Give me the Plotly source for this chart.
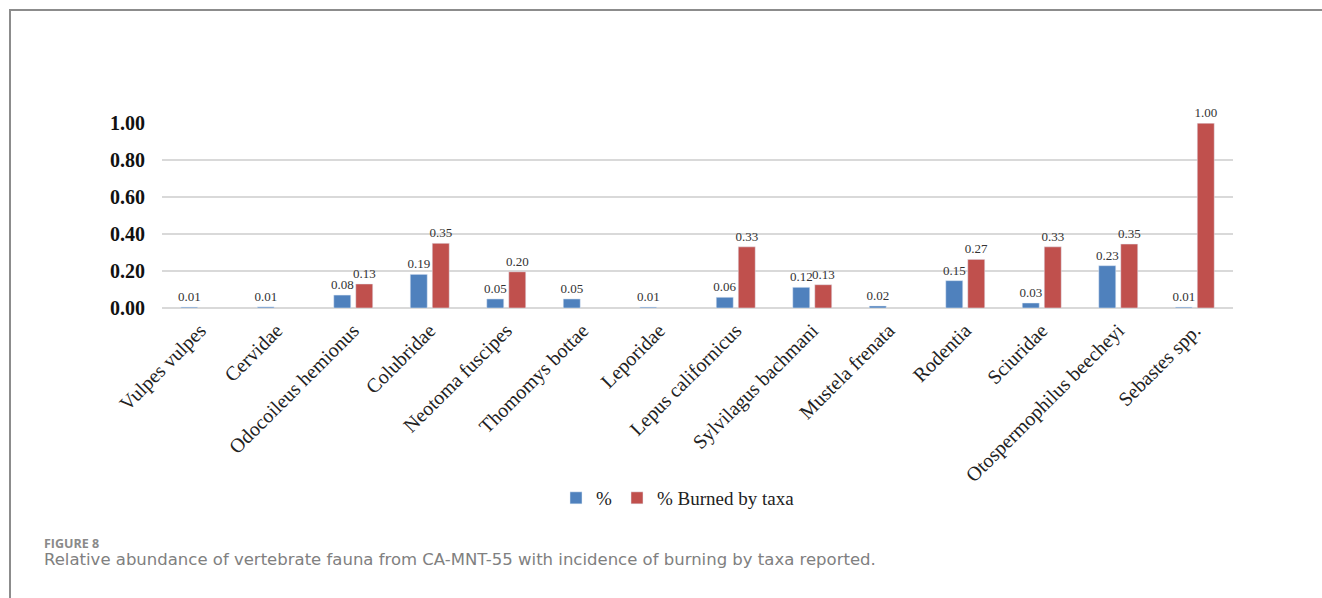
import plotly.graph_objects as go

categories = ["Vulpes vulpes", "Cervidae", "Odocoileus hemionus", "Colubridae",
              "Neotoma fuscipes", "Thomomys bottae", "Leporidae", "Lepus californicus",
              "Sylvilagus bachmani", "Mustela frenata", "Rodentia", "Sciuridae",
              "Otospermophilus beecheyi", "Sebastes spp."]
pct = [0.005, 0.006, 0.07, 0.182, 0.049, 0.049, 0.005, 0.058, 0.112, 0.011,
       0.148, 0.027, 0.229, 0.005]
pct_labels = ["0.01", "0.01", "0.08", "0.19", "0.05", "0.05", "0.01", "0.06",
              "0.12", "0.02", "0.15", "0.03", "0.23", "0.01"]
burned = [None, None, 0.13, 0.35, 0.196, None, None, 0.331, 0.126, None,
          0.263, 0.331, 0.346, 1.0]
burned_labels = ["", "", "0.13", "0.35", "0.20", "", "", "0.33", "0.13", "",
                 "0.27", "0.33", "0.35", "1.00"]
y_ticks = [0, 0.2, 0.4, 0.6, 0.8, 1.0]

W, H = 1322, 598
L, R, T, B = 162, 1233, 123, 308  # plot area in pixels


def px_x(x):
    return (x - L) / (R - L)


def px_y(y):
    return (B - y) / (B - T)


serif = "Liberation Serif, Times New Roman, serif"

fig = go.Figure()
fig.add_trace(go.Bar(
    x=categories, y=pct, name="%", marker_color="#4F81BD",
    text=pct_labels, textposition="outside", cliponaxis=False, constraintext="none",
    textfont=dict(family=serif, size=13, color="#333333"),
))
fig.add_trace(go.Bar(
    x=categories, y=burned, name="% Burned by taxa", marker_color="#C0504D",
    text=burned_labels, textposition="outside", cliponaxis=False, constraintext="none",
    textfont=dict(family=serif, size=13, color="#333333"),
))

fig.update_layout(
    width=W, height=H,
    margin=dict(l=L, r=W - R, t=T, b=H - B, pad=0),
    paper_bgcolor="white", plot_bgcolor="white",
    barmode="group", bargap=0.425, bargroupgap=0.227,
    showlegend=True,
    legend=dict(orientation="h", x=px_x(678), y=px_y(498), xanchor="center",
                yanchor="middle", font=dict(family=serif, size=19, color="#222222"),
                itemwidth=30, traceorder="normal"),
    xaxis=dict(tickangle=-45, tickfont=dict(family=serif, size=20, color="#222222"),
               showgrid=False, showline=False, ticks="", ticklabelstandoff=6),
    yaxis=dict(range=[0, 1.001], tickvals=y_ticks, tickformat=".2f",
               tickfont=dict(family=serif, size=20, color="#111111", weight="bold"),
               showgrid=True, gridcolor="#d9d9d9", gridwidth=1.5,
               zeroline=True, zerolinecolor="#d9d9d9", zerolinewidth=1.5,
               showline=False, ticks="", ticklabelstandoff=16),
    font=dict(family=serif),
    shapes=[
        dict(type="line", xref="paper", yref="paper", x0=px_x(10), x1=px_x(10),
             y0=px_y(10), y1=px_y(600), line=dict(color="#8c8c8c", width=2)),
        dict(type="line", xref="paper", yref="paper", x0=px_x(9), x1=px_x(1330),
             y0=px_y(10), y1=px_y(10), line=dict(color="#8c8c8c", width=2)),
    ],
    annotations=[
        dict(text="<b>FIGURE 8</b>", xref="paper", yref="paper", x=px_x(42),
             y=px_y(543.5), xanchor="left", yanchor="middle", showarrow=False,
             font=dict(family="Open Sans, sans-serif", size=12.5, color="#8a8a8a")),
        dict(text="Relative abundance of vertebrate fauna from CA-MNT-55 with incidence of burning by taxa reported.",
             xref="paper", yref="paper", x=px_x(42), y=px_y(559),
             xanchor="left", yanchor="middle", showarrow=False,
             font=dict(family="DejaVu Sans, sans-serif", size=16.5, color="#808080")),
    ],
)

fig.write_html("out.html")
